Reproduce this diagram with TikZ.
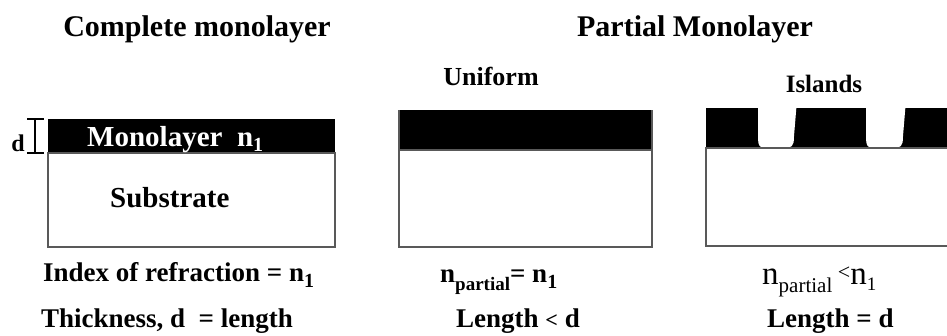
\documentclass[tikz,border=0pt]{standalone}
\usepackage{fontspec}
\usepackage{graphicx}
\setmainfont{Liberation Serif}
\newcommand{\lowsub}[3]{\raisebox{-#1pt}{\fontsize{#2}{#2}\selectfont #3}}
\tikzset{
  boxline/.style={draw=black!65, line width=1.4pt},
  band/.style={fill=black},
  gap/.style={fill=white},
  ttl/.style={font=\bfseries\fontsize{30}{34}\selectfont, anchor=base, inner sep=0pt},
  sub/.style={font=\bfseries\fontsize{26}{30}\selectfont, anchor=base, inner sep=0pt},
  lbl/.style={font=\bfseries\fontsize{27}{32}\selectfont, anchor=base west, inner sep=0pt},
  inbox/.style={font=\bfseries\fontsize{29}{34}\selectfont, anchor=base west, inner sep=0pt},
}
\begin{document}
\begin{tikzpicture}[x=1pt,y=-1pt]
\useasboundingbox[fill=white] (0,0) rectangle (947,335);
% titles
\node[ttl] (t1) at (197,36) {Complete monolayer};
\node[ttl] (t2) at (695,36) {Partial Monolayer};
\node[sub] (t3) at (491,85) {Uniform};
\node[sub,font=\bfseries\fontsize{25}{30}\selectfont] (t4) at (824,92) {Islands};
% box 1
\fill[band] (48,119) rectangle (335,153);
\draw[boxline] (48,153) rectangle (335,247);
\node[inbox,text=white] (mono) at (87,146) {Monolayer\ \ n\lowsub{5}{20}{1}};
\node[inbox] (subs) at (110,207) {Substrate};
% d bracket
\draw[line width=2pt] (35,119) -- (35,153);
\draw[line width=2pt] (27,119) -- (44,119);
\draw[line width=2pt] (27,153) -- (44,153);
\node[font=\bfseries\fontsize{24}{26}\selectfont, anchor=base, inner sep=0pt] (d) at (18,151) {d};
% box 2
\fill[band] (399,110) rectangle (652,150);
\draw[boxline] (399,150) rectangle (652,247);
\draw[boxline] (399,110) -- (399,150) (652,110) -- (652,150);
% box 3
\fill[band] (706,108) rectangle (947,148);
\fill[gap] (758,100) -- (758,136) .. controls (758,148) and (760,148) .. (770,148) -- (782,148) .. controls (792,148) and (794,147) .. (794,136) -- (797,100) -- cycle;
\fill[gap] (866,100) -- (866,136) .. controls (866,148) and (868,148) .. (878,148) -- (891,148) .. controls (901,148) and (903,147) .. (903,136) -- (906,100) -- cycle;
\draw[boxline] (950,148) -- (706,148) -- (706,246) -- (950,246);
% bottom labels
\node[lbl] (l1) at (43,281) {Index of refraction = n\lowsub{6}{20}{1}};
\node[lbl] (l2) at (41,327) {Thickness, d \ = length};
\node[lbl] (l3) at (440,282) {n\lowsub{8}{19}{partial}= n\lowsub{6}{20}{1}};
\node[lbl] (l4) at (456,327) {Length {\fontsize{22}{24}\selectfont <} d};
\node[lbl,font=\fontsize{33}{36}\selectfont] (l5) at (762,284) {n\lowsub{8}{21}{partial}\,\raisebox{5pt}{\fontsize{22}{24}\selectfont <}n\lowsub{6}{19}{1}};
\node[lbl] (l6) at (767,327) {Length = d};
\end{tikzpicture}
\end{document}
